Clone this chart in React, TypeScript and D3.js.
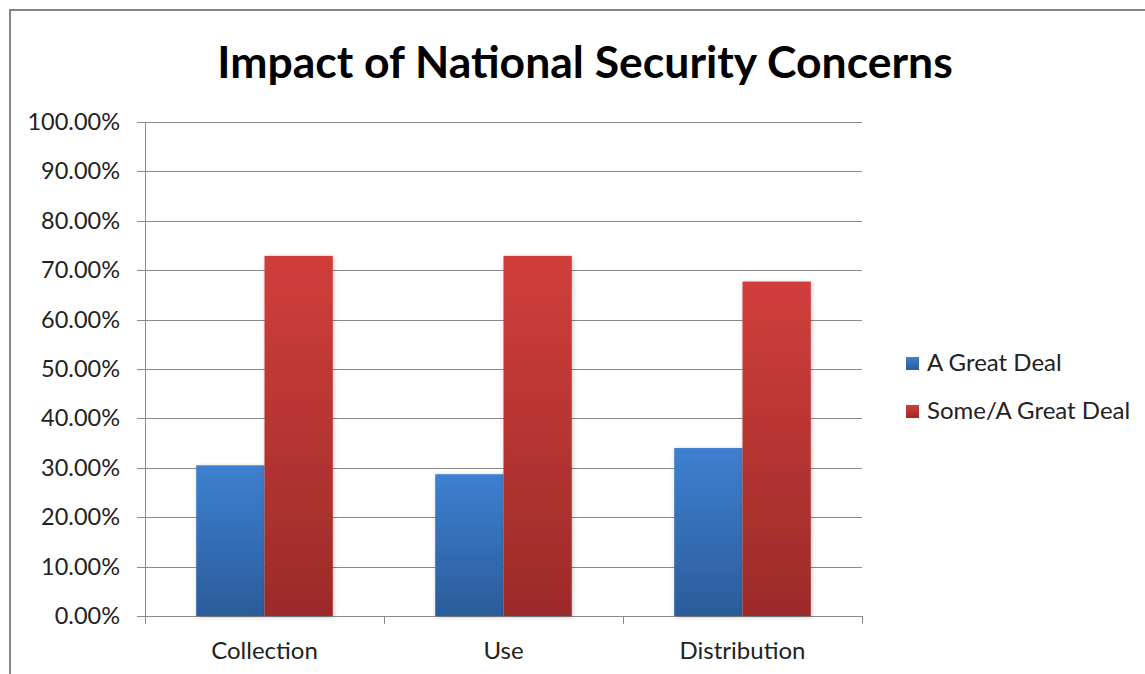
import React from "react";
import * as d3 from "d3";

const categories = ["Collection", "Use", "Distribution"];
const seriesNames = ["A Great Deal", "Some/A Great Deal"];
const greatDeal = [0.305, 0.287, 0.34];
const someGreatDeal = [0.729, 0.729, 0.677];
const yTicks = [0, 0.1, 0.2, 0.3, 0.4, 0.5, 0.6, 0.7, 0.8, 0.9, 1.0];
const title = "Impact of National Security Concerns";

const W = 1145;
const H = 674;
const margin = { left: 145, right: 862, top: 122, bottom: 616 };
const FONT = "Lato, 'Open Sans', sans-serif";

export default function App() {
  const x = d3.scaleBand<string>().domain(categories).range([margin.left, margin.right]).paddingInner(0).paddingOuter(0);
  const y = d3.scaleLinear().domain([0, 1]).range([margin.bottom, margin.top]);
  const bw = x.bandwidth();
  const barW = bw / (2 + 1.5);
  const inner = d3.scaleBand<number>().domain([0, 1]).range([0, 2 * barW]);
  const series = [greatDeal, someGreatDeal];
  const fmt = d3.format(".2%");

  return (
    <svg width={W} height={H} style={{ position: "absolute", left: 0, top: 0 }}>
      <defs>
        <linearGradient id="gBlue" x1="0" y1="0" x2="0" y2="1">
          <stop offset="0" stopColor="#3d80d0" />
          <stop offset="1" stopColor="#2b5c9a" />
        </linearGradient>
        <linearGradient id="gRed" x1="0" y1="0" x2="0" y2="1">
          <stop offset="0" stopColor="#d03e3b" />
          <stop offset="1" stopColor="#9b2b29" />
        </linearGradient>
        <filter id="sh" x="-20%" y="-5%" width="140%" height="110%">
          <feDropShadow dx="1" dy="1" stdDeviation="2" floodColor="#000" floodOpacity="0.25" />
        </filter>
      </defs>
      <rect x={0} y={0} width={W} height={H} fill="#fff" />
      <rect x={10} y={10} width={W + 20} height={H + 20} fill="none" stroke="#868686" strokeWidth={2} />
      <text x={585} y={78} textAnchor="middle" fontFamily={FONT} fontWeight="bold" fontSize={44.5} fill="#000">
        {title}
      </text>
      {yTicks.map((t) => (
        <g key={t}>
          <line x1={margin.left - 8} x2={margin.right} y1={Math.round(y(t)) + 0.5} y2={Math.round(y(t)) + 0.5} stroke="#8a8a8a" strokeWidth={1} />
          <text x={120} y={y(t) + 8} textAnchor="end" fontFamily={FONT} fontSize={23.5} fill="#222">
            {fmt(t)}
          </text>
        </g>
      ))}
      <line x1={margin.left + 0.5} x2={margin.left + 0.5} y1={margin.top} y2={margin.bottom + 8} stroke="#8a8a8a" />
      {categories.map((c) => (
        <line key={c} x1={Math.round(x(c)! + bw) + 0.5} x2={Math.round(x(c)! + bw) + 0.5} y1={margin.bottom} y2={margin.bottom + 8} stroke="#8a8a8a" />
      ))}
      {categories.map((c, i) => (
        <g key={c}>
          {series.map((s, k) => {
            const x0 = x(c)! + (bw - 2 * barW) / 2 + inner(k)!;
            return (
              <rect
                key={k}
                x={x0}
                y={y(s[i])}
                width={barW}
                height={y(0) - y(s[i])}
                fill={k === 0 ? "url(#gBlue)" : "url(#gRed)"}
                filter="url(#sh)"
              />
            );
          })}
          <text x={x(c)! + bw / 2} y={659} textAnchor="middle" fontFamily={FONT} fontSize={24} fill="#222">
            {c}
          </text>
        </g>
      ))}
      {seriesNames.map((n, k) => (
        <g key={n}>
          <rect x={906} y={357 + k * 48} width={13} height={13} fill={k === 0 ? "url(#gBlue)" : "url(#gRed)"} />
          <text x={927} y={371 + k * 48} fontFamily={FONT} fontSize={24} fill="#222">
            {n}
          </text>
        </g>
      ))}
    </svg>
  );
}
